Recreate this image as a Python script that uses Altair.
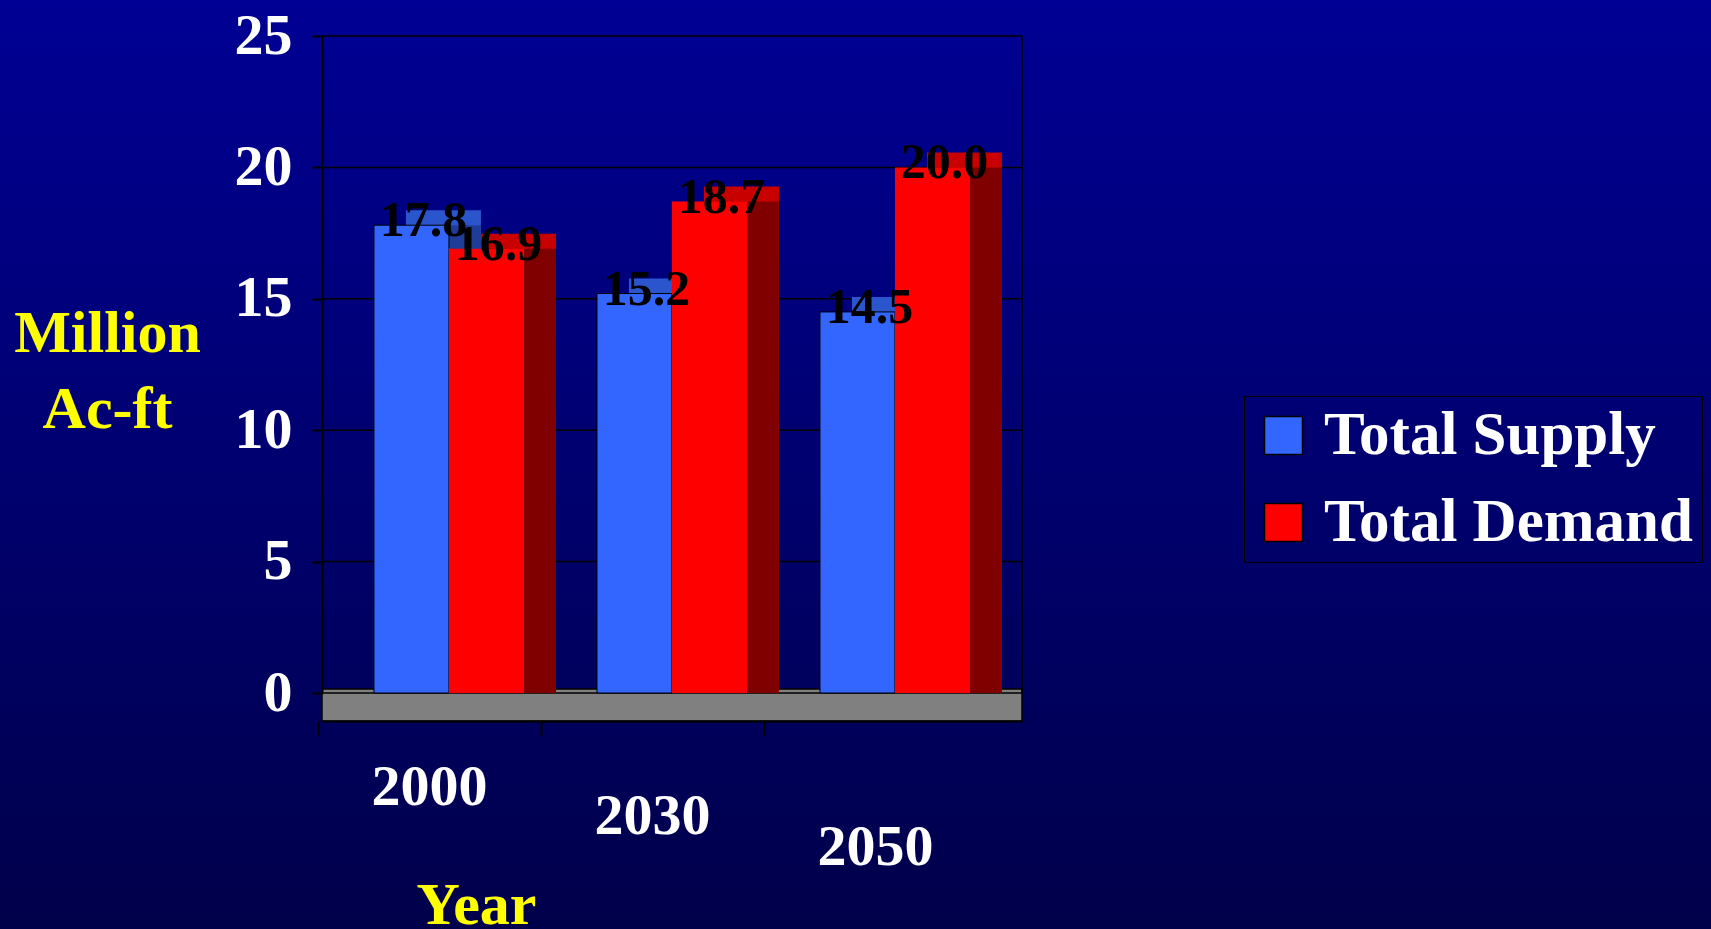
import altair as alt
import pandas as pd

# ---- data ----
years = ["2000", "2030", "2050"]
series_names = ["Total Supply", "Total Demand"]
supply = [17.8, 15.2, 14.5]
demand = [16.9, 18.7, 20.0]
y_ticks = [0, 5, 10, 15, 20, 25]

df = pd.DataFrame({
    "year": years * 2,
    "series": [series_names[0]] * 3 + [series_names[1]] * 3,
    "value": supply + demand,
})
ticks_df = pd.DataFrame({"t": y_ticks})
one = pd.DataFrame({"a": [0]})

# ---- layout ----
W, H = 700, 657
L, T = 322, 36
TOTAL_W, TOTAL_H = 1711, 929
DX, DY = 32, 15        # pseudo-3D depth
BW = 150               # group width
TICK_SHIFT = 131
FLOOR = 28
FONT = "Liberation Serif"

front_colors = ["#3366FF", "#FF0000"]
top_colors = ["#2B55CC", "#C80000"]
side_colors = ["#1F3C99", "#800000"]

x_scale = alt.Scale(paddingInner=0.327, paddingOuter=0.233)
y_scale = alt.Scale(domain=[0, 25], nice=False, zero=True)

x_axis = alt.Axis(
    title="Year", labelAngle=0, labelFont=FONT, labelFontSize=58,
    labelFontWeight="bold", labelColor="white",
    tickOffset=-TICK_SHIFT, labelOffset=TICK_SHIFT - 20,
    labelBaseline="top",
    labelPadding={"condition": {"test": "datum.value == '2000'", "value": 23},
                  "expr": "datum.value == '2030' ? 52 : 83"},
    tickColor="black", tickSize=14, tickWidth=2,
    domainColor="black", domainWidth=2, offset=FLOOR, grid=False,
    titleFont=FONT, titleFontSize=60, titleFontWeight="bold",
    titleColor="#FFFF00", titleX=154, titleY=202, titleAlign="center",
    titleBaseline="alphabetic", zindex=1,
)
y_axis = alt.Axis(
    values=y_ticks, title=["Million", "Ac-ft"], titleAngle=0,
    titleAlign="center", titleBaseline="top", titleX=-215, titleY=268,
    titleFont=FONT, titleFontSize=60, titleFontWeight="bold",
    titleColor="#FFFF00", titleLineHeight=76,
    labelFont=FONT, labelFontSize=58, labelFontWeight="bold",
    labelColor="white", labelPadding=20, tickColor="black", tickSize=10,
    tickWidth=2, domainColor="black", domainWidth=2, grid=False, zindex=1,
)

x_enc = alt.X("year:N", scale=x_scale, axis=x_axis, sort=years)
y_enc = alt.Y("value:Q", scale=y_scale, axis=y_axis)


def offs(shift):
    return alt.XOffset("series:N", sort=series_names,
                       scale=alt.Scale(range=[shift, BW + shift],
                                       paddingInner=0, paddingOuter=0))


bg = alt.Chart(one).mark_rect(
    fill=alt.LinearGradient(
        gradient="linear",
        stops=[alt.GradientStop(color="#000094", offset=0),
               alt.GradientStop(color="#000070", offset=0.5),
               alt.GradientStop(color="#00004A", offset=1)],
        x1=0, x2=0, y1=0, y2=1),
).encode(x=alt.value(-L), x2=alt.value(TOTAL_W - L),
         y=alt.value(-T), y2=alt.value(TOTAL_H - T))

floor = alt.Chart(one).mark_rect(fill="#808080", stroke="black", strokeWidth=1.5).encode(
    x=alt.value(0), x2=alt.value(W), y=alt.value(H - 4), y2=alt.value(H + FLOOR))

grid = alt.Chart(ticks_df).mark_rule(color="black", strokeWidth=1.5).encode(
    y=alt.Y("t:Q", scale=y_scale, axis=y_axis), x=alt.value(0), x2=alt.value(W))

wall = alt.Chart(one).mark_rule(color="black", strokeWidth=1.5).encode(
    x=alt.value(W), y=alt.value(0), y2=alt.value(H))

tops = alt.Chart(df).mark_bar(yOffset=-DY, y2Offset=-DY).encode(
    x=x_enc, xOffset=offs(DX), y=y_enc,
    color=alt.Color("series:N", sort=series_names,
                    scale=alt.Scale(domain=series_names, range=top_colors), legend=None))

sides = alt.Chart(df).mark_bar().encode(
    x=x_enc, xOffset=offs(DX), y=y_enc,
    color=alt.Color("series:N", sort=series_names,
                    scale=alt.Scale(domain=series_names, range=side_colors), legend=None))

fronts = alt.Chart(df).mark_bar(strokeWidth=1).encode(
    x=x_enc, xOffset=offs(0), y=y_enc,
    color=alt.Color("series:N", sort=series_names,
                    scale=alt.Scale(domain=series_names, range=front_colors),
                    legend=alt.Legend(
                        title=None, orient="none", legendX=922, legendY=360,
                        labelFont=FONT, labelFontSize=61, labelFontWeight="bold",
                        labelColor="white", labelLimit=1000, labelOffset=10,
                        symbolType="square", symbolSize=1444,
                        symbolStrokeColor="black", symbolStrokeWidth=1.5,
                        rowPadding=25, padding=9, strokeColor="black")),
    stroke=alt.condition("datum.series == 'Total Supply'",
                         alt.value("black"), alt.value("transparent")),
)

labels = alt.Chart(df).mark_text(
    font=FONT, fontSize=50, fontWeight="bold", color="black",
    dx=12, dy=-4, baseline="middle", align="center",
).encode(x=x_enc,
         xOffset=alt.XOffset("series:N", sort=series_names,
                             scale=alt.Scale(type="point", padding=0.5, range=[0, BW])),
         y=y_enc,
         text=alt.Text("value:Q", format=".1f"))

chart = alt.layer(bg, floor, grid, wall, tops, sides, fronts, labels).resolve_scale(
    xOffset="independent", color="independent"
).properties(
    width=W, height=H,
    autosize=alt.AutoSizeParams(type="none"),
    padding={"left": L, "top": T, "right": TOTAL_W - L - W, "bottom": TOTAL_H - T - H},
    background="#000070",
).configure_view(strokeWidth=0)

chart.save("out.html", embed_options={"renderer": "svg", "actions": False})
